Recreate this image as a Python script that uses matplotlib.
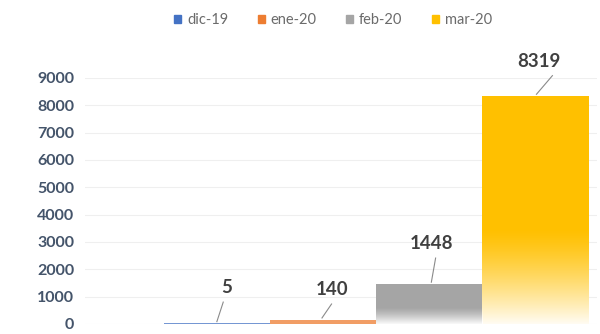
import matplotlib.pyplot as plt
import numpy as np
from matplotlib.patches import Patch

plt.rcParams['font.family'] = ['Lato', 'DejaVu Sans']

# data
months = ["dic-19", "ene-20", "feb-20", "mar-20"]
cases = [5, 140, 1448, 8319]
colors = ["#4472C4", "#ED7D31", "#A5A5A5", "#FFC000"]
yticks = list(range(0, 10000, 1000))

# label placement (layout only)
label_y = [1320, 1250, 2930, 9600]
label_dx = [0.59, 0.58, 0.52, 0.53]
line_dx = [(0.50, 0.56), (0.49, 0.58), (0.52, 0.56), (0.51, 0.66)]

fig = plt.figure(figsize=(6, 3.34), dpi=100)
ax = fig.add_axes([0.142, 0.03, 0.853, 0.737])

for i, (v, c) in enumerate(zip(cases, colors)):
    ax.bar(i, v, width=1.0, align="edge", color=c, edgecolor=c,
           linewidth=1.4 if v < 50 else 0, alpha=0.75 if v < 500 else 1,
           zorder=2)
    if v > 1000:
        # white fade towards the bottom of the bar
        t = np.linspace(0, 1, 200).reshape(-1, 1)
        a = np.clip(1 - t / 0.42, 0, 1) ** 1.3 * 0.95
        img = np.ones((200, 1, 4))
        img[..., 3] = a
        ax.imshow(img, extent=[i, i + 1, 0, v], origin="lower", aspect="auto",
                  zorder=3, interpolation="bilinear")

    # leader line and label
    ax.plot([i + line_dx[i][0], i + line_dx[i][1]], [v + 80, label_y[i] - 520],
            color="#8a8a8a", lw=0.8, zorder=4, clip_on=False)
    ax.text(i + label_dx[i], label_y[i], str(v), ha="center", va="center",
            fontsize=13.5, fontweight="bold", color="#404040", clip_on=False)

ax.set_xlim(-0.74, 4.08)
ax.set_ylim(0, 9000)
ax.set_yticks(yticks)
ax.set_yticklabels([str(y) for y in yticks], fontsize=11.5, fontweight="bold",
                   color="#44546A")
ax.set_xticks([])
ax.tick_params(axis="y", length=0, pad=8)
ax.grid(axis="y", color="#EFEFEF", lw=0.8, zorder=0)
ax.set_axisbelow(True)
for s in ax.spines.values():
    s.set_visible(False)

handles = [Patch(facecolor=c, edgecolor=c) for c in colors]
fig.legend(handles, months, loc="center", bbox_to_anchor=(0.555, 0.94),
           ncol=4, frameon=False, fontsize=10.5, handlelength=0.5,
           handleheight=0.45, handletextpad=0.4, columnspacing=2.0,
           labelcolor="#6b6b6b")

fig.savefig("out.png", dpi=100)
